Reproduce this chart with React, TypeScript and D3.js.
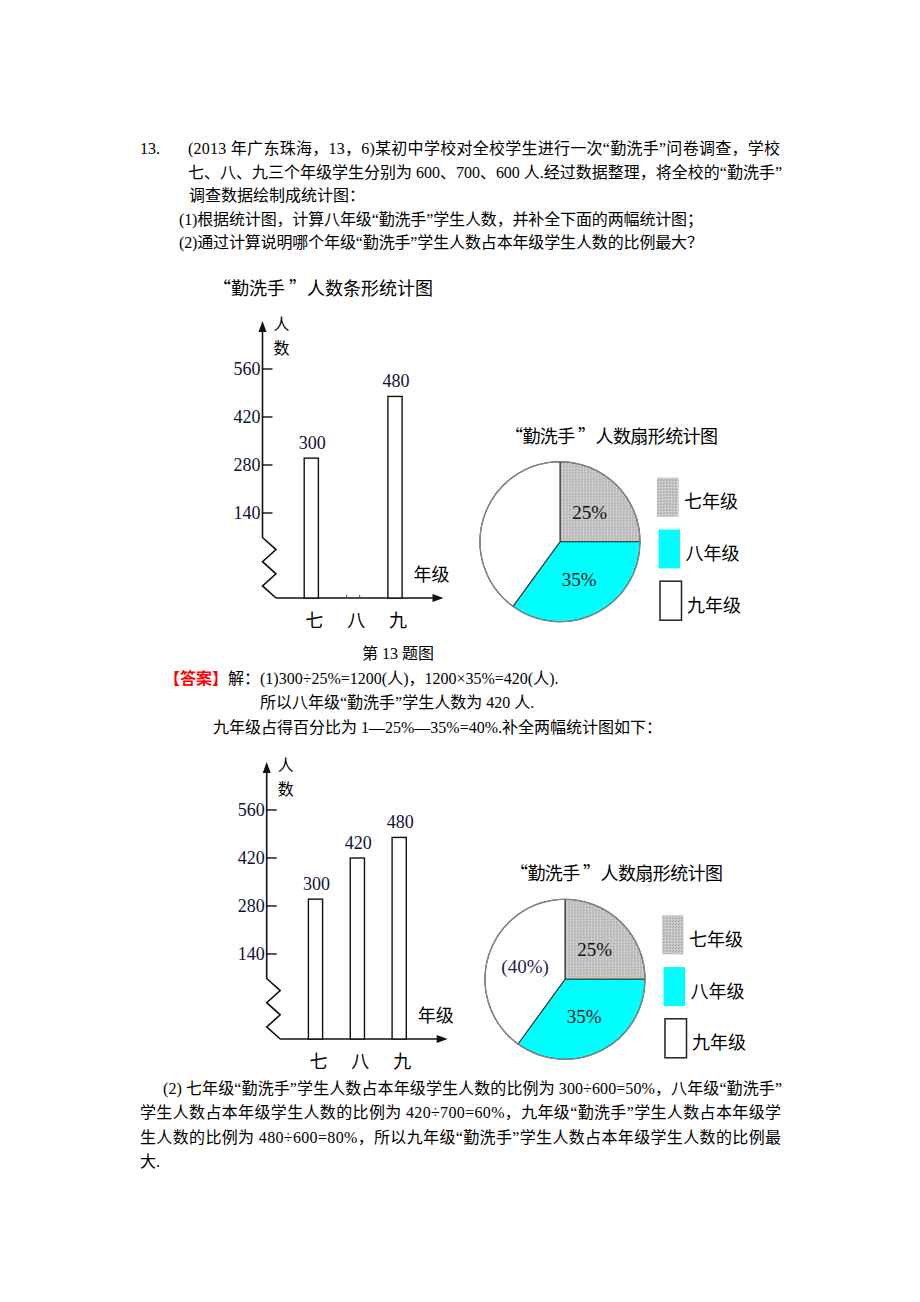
import * as d3 from 'd3';

// ---- data ----
const grades = ['七', '八', '九'];
const countsQuestion: (number | null)[] = [300, null, 480];
const countsAnswer = [300, 420, 480];
const yTicks = [140, 280, 420, 560];
const pieShares = [25, 35, 40];
const pieLabelsQuestion = ['25%', '35%', ''];
const pieLabelsAnswer = ['25%', '35%', '(40%)'];
const legendLabels = ['七年级', '八年级', '九年级'];

const SERIF = "'Liberation Serif', 'Noto Sans CJK SC', serif";
const SANS = "'Noto Sans CJK SC', 'DejaVu Sans', sans-serif";
const TICK_COLOR = '#10103a';

interface BarProps {
    ox: number; // x of the y axis
    oy: number; // y of the 560 tick
    values: (number | null)[];
}

function BarChart({ ox, oy, values }: BarProps) {
    const y = d3.scaleLinear().domain([140, 560]).range([oy + 144, oy]);
    const x = d3.scalePoint<string>().domain(grades).range([ox + 48.8, ox + 132.5]);
    const baseline = oy + 229;
    const top = oy - 48;
    const zigStart = oy + 168.5;
    const zigW = 13.5;
    const xEnd = ox + 181;
    const barW = 14.2;

    const zig = d3.range(6).map(i => [i % 2 ? ox + zigW : ox, zigStart + (baseline - zigStart) * i / 5] as [number, number]);
    const zigPath = d3.line()([[ox, top + 6], ...zig]) as string;

    return (
        <g>
            {/* y axis + break */}
            <path d={zigPath} fill="none" stroke="#111" strokeWidth={1.6} />
            <path d={`M${ox},${top} L${ox - 4},${top + 11} L${ox + 4},${top + 11} Z`} fill="#111" />
            {/* x axis */}
            <line x1={ox + zigW} x2={xEnd - 6} y1={baseline} y2={baseline} stroke="#111" strokeWidth={1.6} />
            <path d={`M${xEnd},${baseline} L${xEnd - 11},${baseline - 4} L${xEnd - 11},${baseline + 4} Z`} fill="#111" />

            {yTicks.map(t => (
                <g key={t}>
                    <line x1={ox} x2={ox + 10} y1={y(t)} y2={y(t)} stroke="#111" strokeWidth={1.4} />
                    <text x={ox - 2} y={y(t)} textAnchor="end" dominantBaseline="central"
                        fontFamily={SERIF} fontSize={18} fill={TICK_COLOR}>{t}</text>
                </g>
            ))}

            {/* vertical axis title 人 / 数 */}
            <text x={ox + 19} y={oy - 46.5} textAnchor="middle" dominantBaseline="central" fontFamily={SANS} fontSize={16}>人</text>
            <text x={ox + 19} y={oy - 22.3} textAnchor="middle" dominantBaseline="central" fontFamily={SANS} fontSize={16}>数</text>
            <text x={ox + 151} y={baseline - 25} dominantBaseline="central" fontFamily={SANS} fontSize={18}>年级</text>

            {grades.map((g, i) => {
                const v = values[i];
                const cx = x(g) as number;
                return (
                    <g key={g}>
                        {v != null ? (
                            <>
                                <rect x={cx - barW / 2} y={y(v)} width={barW} height={baseline - y(v)}
                                    fill="#fff" stroke="#111" strokeWidth={1.4} />
                                <text x={cx + 1} y={y(v) - 15} textAnchor="middle" dominantBaseline="central"
                                    fontFamily={SERIF} fontSize={18} fill={TICK_COLOR}>{v}</text>
                            </>
                        ) : (
                            <>
                                <line x1={cx - 6.5} x2={cx - 6.5} y1={baseline - 3} y2={baseline} stroke="#444" />
                                <line x1={cx + 6.5} x2={cx + 6.5} y1={baseline - 3} y2={baseline} stroke="#444" />
                            </>
                        )}
                        <text x={cx + 3} y={baseline + 20.5} textAnchor="middle" dominantBaseline="central"
                            fontFamily={SANS} fontSize={18}>{g}</text>
                    </g>
                );
            })}
        </g>
    );
}

interface PieProps {
    cx: number;
    cy: number;
    labels: string[];
}

const pieFills = ['url(#stipple)', '#00ffff', '#ffffff'];

function PieChart({ cx, cy, labels }: PieProps) {
    const r = 80;
    const arcs = d3.pie<number>().sort(null).value(d => d)(pieShares);
    const arc = d3.arc<d3.PieArcDatum<number>>().innerRadius(0).outerRadius(r);
    const labelArc = d3.arc<d3.PieArcDatum<number>>().innerRadius(42).outerRadius(42);
    const legendY = d3.scalePoint<string>().domain(legendLabels).range([cy - 44.5, cy + 59]);

    return (
        <g>
            <text x={cx + 51.5} y={cy - 107} textAnchor="middle" dominantBaseline="central"
                fontFamily={SANS} fontSize={18} textLength={213} lengthAdjust="spacing">“勤洗手 ”人数扇形统计图</text>
            <g transform={`translate(${cx},${cy})`}>
                {arcs.map((a, i) => (
                    <path key={i} d={arc(a) as string} fill={pieFills[i]} stroke="#333" strokeWidth={1.1} />
                ))}
                <circle r={r} fill="none" stroke="#888" strokeWidth={1.3} />
                {arcs.map((a, i) => {
                    const [lx, ly] = labelArc.centroid(a);
                    return labels[i] ? (
                        <text key={i} x={lx} y={ly} textAnchor="middle" dominantBaseline="central"
                            fontFamily="'Liberation Serif', serif" fontSize={19} fill={i === 2 ? '#1e1e50' : '#111'}>{labels[i]}</text>
                    ) : null;
                })}
            </g>
            {legendLabels.map((l, i) => {
                const ly = legendY(l) as number;
                const bx = cx + 97 + i * 1.5;
                return (
                    <g key={l}>
                        <rect x={bx} y={ly - 19.5} width={21.5} height={39} fill={pieFills[i]}
                            stroke={i === 2 ? '#222' : 'none'} strokeWidth={1.5} />
                        <text x={bx + 27} y={ly + 3} dominantBaseline="central" fontFamily={SANS} fontSize={18}>{l}</text>
                    </g>
                );
            })}
        </g>
    );
}

interface Line {
    x: number;
    y: number;
    text: string;
    width?: number;
}

const questionLines: Line[] = [
    { x: 140, y: 148, text: '13.' },
    { x: 188, y: 148, text: '(2013 年广东珠海，13，6)某初中学校对全校学生进行一次“勤洗手”问卷调查，学校', width: 592 },
    { x: 188, y: 172, text: '七、八、九三个年级学生分别为 600、700、600 人.经过数据整理，将全校的“勤洗手”', width: 594 },
    { x: 189, y: 195.5, text: '调查数据绘制成统计图：' },
    { x: 179, y: 219, text: '(1)根据统计图，计算八年级“勤洗手”学生人数，并补全下面的两幅统计图；', width: 524 },
    { x: 179, y: 242.5, text: '(2)通过计算说明哪个年级“勤洗手”学生人数占本年级学生人数的比例最大？', width: 524 },
];

const answerLines: Line[] = [
    { x: 260, y: 702.5, text: '所以八年级“勤洗手”学生人数为 420 人.' },
    { x: 213, y: 727, text: '九年级占得百分比为 1—25%—35%=40%.补全两幅统计图如下：' },
    { x: 163, y: 1088, text: '(2) 七年级“勤洗手”学生人数占本年级学生人数的比例为 300÷600=50%，八年级“勤洗手”', width: 619 },
    { x: 140, y: 1112.5, text: '学生人数占本年级学生人数的比例为 420÷700=60%，九年级“勤洗手”学生人数占本年级学', width: 641 },
    { x: 140, y: 1137, text: '生人数的比例为 480÷600=80%，所以九年级“勤洗手”学生人数占本年级学生人数的比例最', width: 641 },
    { x: 140, y: 1161, text: '大.' },
];

function TextLine({ x, y, text, width }: Line) {
    return (
        <text x={x} y={y} dominantBaseline="central" fontFamily={SERIF} fontSize={16}
            {...(width ? { textLength: width, lengthAdjust: 'spacing' } : {})}>{text}</text>
    );
}

export default function App() {
    return (
        <svg width={920} height={1302} viewBox="0 0 920 1302"
            style={{ position: 'absolute', left: 0, top: 0, background: '#fff', display: 'block' }}>
            <defs>
                <pattern id="stipple" width={3} height={3} patternUnits="userSpaceOnUse">
                    <rect width={3} height={3} fill="#c6c6c6" />
                    <rect x={0} y={0} width={1} height={1} fill="#a4a4a4" />
                    <rect x={2} y={1} width={1} height={1} fill="#dadada" />
                    <rect x={1} y={2} width={1} height={1} fill="#b0b0b0" />
                </pattern>
            </defs>
            <rect width={920} height={1302} fill="#fff" />

            {questionLines.map((l, i) => <TextLine key={i} {...l} />)}

            {/* question charts */}
            <text x={213} y={287} dominantBaseline="central" fontFamily={SANS} fontSize={18}
                textLength={220} lengthAdjust="spacing">“勤洗手 ”人数条形统计图</text>
            <BarChart ox={262.5} oy={369} values={countsQuestion} />
            <PieChart cx={560} cy={541.7} labels={pieLabelsQuestion} />

            <text x={398} y={653} textAnchor="middle" dominantBaseline="central" fontFamily={SERIF} fontSize={16}>第 13 题图</text>

            <text x={164} y={678} dominantBaseline="central" fontFamily={SERIF} fontSize={16}>
                <tspan fill="#ff0000" fontWeight="bold">【答案】</tspan>
                <tspan>解：(1)300÷25%=1200(人)，1200×35%=420(人).</tspan>
            </text>
            {answerLines.map((l, i) => <TextLine key={i} {...l} />)}

            {/* answer charts */}
            <BarChart ox={266.7} oy={810} values={countsAnswer} />
            <PieChart cx={565} cy={979.3} labels={pieLabelsAnswer} />
        </svg>
    );
}
